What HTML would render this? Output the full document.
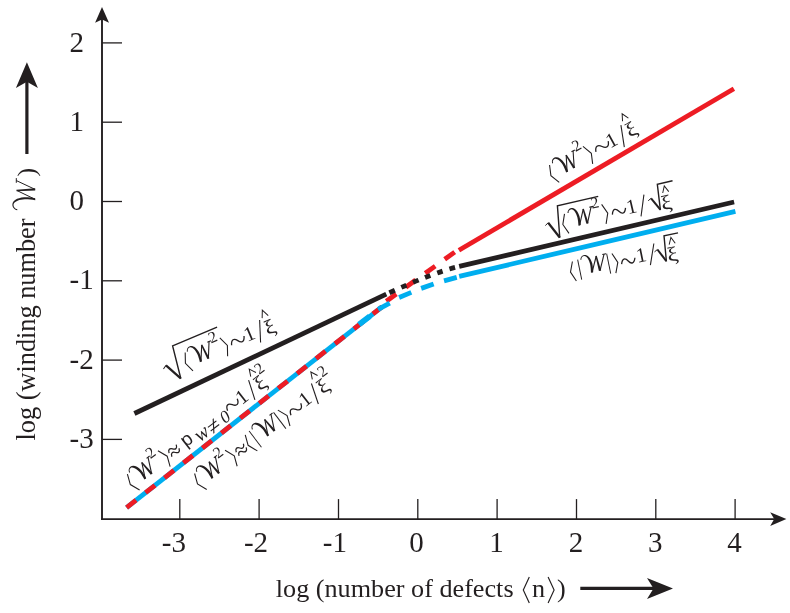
<!DOCTYPE html>
<html><head><meta charset="utf-8"><title>chart</title>
<style>
html,body{margin:0;padding:0;background:#fff;}
svg{display:block;will-change:transform;}
text{font-family:"Liberation Serif",serif;fill:#231f20;}
.tk{font-size:29px;}
.ax{font-size:26px;}
</style></head><body>
<svg width="790" height="613" viewBox="0 0 790 613">
<rect width="790" height="613" fill="#fff"/>
<line x1="102" y1="18" x2="102" y2="520.05" stroke="#231f20" stroke-width="1.9"/>
<line x1="101.05" y1="519.1" x2="774" y2="519.1" stroke="#231f20" stroke-width="1.9"/>
<path d="M102,7 L109,22.8 L102,19.6 L95.1,22.8 Z" fill="#231f20"/>
<path d="M786.4,519.1 L770.2,525.9 L774.2,519.1 L770.2,512.3 Z" fill="#231f20"/>
<line x1="102" y1="439.4" x2="122" y2="439.4" stroke="#231f20" stroke-width="1.3"/>
<line x1="102" y1="360.1" x2="122" y2="360.1" stroke="#231f20" stroke-width="1.3"/>
<line x1="102" y1="280.8" x2="122" y2="280.8" stroke="#231f20" stroke-width="1.3"/>
<line x1="102" y1="201.5" x2="122" y2="201.5" stroke="#231f20" stroke-width="1.3"/>
<line x1="102" y1="122.2" x2="122" y2="122.2" stroke="#231f20" stroke-width="1.3"/>
<line x1="102" y1="42.9" x2="122" y2="42.9" stroke="#231f20" stroke-width="1.3"/>
<line x1="179.8" y1="499.1" x2="179.8" y2="519" stroke="#231f20" stroke-width="1.3"/>
<line x1="259.1" y1="499.1" x2="259.1" y2="519" stroke="#231f20" stroke-width="1.3"/>
<line x1="338.5" y1="499.1" x2="338.5" y2="519" stroke="#231f20" stroke-width="1.3"/>
<line x1="417.8" y1="499.1" x2="417.8" y2="519" stroke="#231f20" stroke-width="1.3"/>
<line x1="497.1" y1="499.1" x2="497.1" y2="519" stroke="#231f20" stroke-width="1.3"/>
<line x1="576.5" y1="499.1" x2="576.5" y2="519" stroke="#231f20" stroke-width="1.3"/>
<line x1="655.8" y1="499.1" x2="655.8" y2="519" stroke="#231f20" stroke-width="1.3"/>
<line x1="735.1" y1="499.1" x2="735.1" y2="519" stroke="#231f20" stroke-width="1.3"/>
<text x="69.6" y="448.0" class="tk">-3</text>
<text x="69.6" y="368.7" class="tk">-2</text>
<text x="69.6" y="289.4" class="tk">-1</text>
<text x="69.6" y="210.1" class="tk">0</text>
<text x="69.6" y="130.8" class="tk">1</text>
<text x="69.6" y="51.5" class="tk">2</text>
<text x="186.0" y="552" text-anchor="end" class="tk">-3</text>
<text x="268.1" y="552" text-anchor="end" class="tk">-2</text>
<text x="346.9" y="552" text-anchor="end" class="tk">-1</text>
<text x="416.6" y="552" text-anchor="middle" class="tk">0</text>
<text x="496.6" y="552" text-anchor="middle" class="tk">1</text>
<text x="576.0" y="552" text-anchor="middle" class="tk">2</text>
<text x="655.3" y="552" text-anchor="middle" class="tk">3</text>
<text x="734.6" y="552" text-anchor="middle" class="tk">4</text>
<line x1="134.4" y1="413.5" x2="386.3" y2="294.2" stroke="#231f20" stroke-width="4.8" />
<line x1="126.6" y1="507.6" x2="382.0" y2="306.8" stroke="#00aeef" stroke-width="4.8" />
<line x1="126.6" y1="507.6" x2="382.0" y2="306.8" stroke="#ed1c24" stroke-width="4.8" stroke-dasharray="12 12.1"/>
<line x1="458.9" y1="250.2" x2="733.9" y2="88.8" stroke="#ed1c24" stroke-width="4.8" />
<line x1="459.2" y1="266.4" x2="734.1" y2="202.0" stroke="#231f20" stroke-width="4.8" />
<line x1="459.2" y1="276.4" x2="735.4" y2="211.3" stroke="#00aeef" stroke-width="4.8" />
<line x1="386.3" y1="301.2" x2="454.7" y2="252.1" stroke="#ed1c24" stroke-width="4.8" stroke-dasharray="12.3 11.66"/>
<line x1="358.93" y1="324.41" x2="369.77" y2="316.19" stroke="#00aeef" stroke-width="5.7"/>
<line x1="378.07" y1="309.40" x2="389.73" y2="303.20" stroke="#00aeef" stroke-width="4.8"/>
<line x1="399.10" y1="297.43" x2="411.30" y2="292.37" stroke="#00aeef" stroke-width="4.8"/>
<line x1="421.17" y1="288.38" x2="433.63" y2="284.02" stroke="#00aeef" stroke-width="4.8"/>
<line x1="444.04" y1="280.86" x2="456.76" y2="277.34" stroke="#00aeef" stroke-width="4.8"/>
<path d="M386.3,294.2 Q434.5,272 459.2,266.4" fill="none" stroke="#231f20" stroke-width="4.8" stroke-dasharray="5.8 7.1" stroke-dashoffset="-3.2"/>
<text x="275.8" y="596.6" class="ax" style="font-size:26.2px">log (number of defects</text>
<text transform="translate(34.6,440.5) rotate(-90)" class="ax" style="font-size:26.3px">log (winding number</text>
<line x1="580.3" y1="588.4" x2="655" y2="588.4" stroke="#231f20" stroke-width="3.2"/>
<path d="M673,588.4 L647,599 L653.5,588.4 L647,578 Z" fill="#231f20"/>
<line x1="26.9" y1="154" x2="26.9" y2="80" stroke="#231f20" stroke-width="3.2"/>
<path d="M26.9,62.2 L37.9,87.9 L26.9,81.8 L15.9,87.9 Z" fill="#231f20"/>
<g transform="translate(34.8,210.4) rotate(-90)">
<g transform="translate(0,0) scale(1.0)"><path d="M0.1,-17.6 C0.9,-20.6 3.2,-22.7 6.1,-22.4 C9.6,-22 12.45,-18.5 13.15,-10.5 C13.25,-7 12.75,-3 12.15,0.4 L10.05,0.4 C10.65,-3 11.15,-7 11.05,-10 C10.85,-15 9.15,-20.40 5.9,-21.30 C3.6,-21.50 1.6,-20 1.10,-17.4 Z" fill="#231f20"/><line x1="11.1" y1="0.3" x2="19.9" y2="-17.9" stroke="#231f20" stroke-width="1.00"/><path d="M19.27,-18.3 L20.53,-18.3 L22.05,0.4 L19.95,0.4 Z" fill="#231f20"/><line x1="21" y1="0.3" x2="29.8" y2="-18.4" stroke="#231f20" stroke-width="1.00"/><line x1="27.6" y1="-18.5" x2="32.3" y2="-18.5" stroke="#231f20" stroke-width="1.00"/></g>
<text x="33.95" y="0.3" font-size="26" >)</text>
</g>
<g transform="translate(0,0) rotate(0)">
<path d="M529.3,577 L523.3,590.0 L529.3,603" fill="none" stroke="#231f20" stroke-width="1.15"/>
<text x="532" y="596.6" font-size="26.2" >n</text>
<path d="M548.1,577 L554.1,590.0 L548.1,603" fill="none" stroke="#231f20" stroke-width="1.15"/>
<text x="557" y="596.6" font-size="26.2" >)</text>
</g>
<g transform="translate(202.1,360.9) rotate(-23)">
<path d="M-38.7,-7.7 L-35.0,-10.0" fill="none" stroke="#231f20" stroke-width="0.9" stroke-linejoin="miter"/>
<path d="M-35.0,-10.0 L-26.5,7.7" fill="none" stroke="#231f20" stroke-width="2.2" stroke-linejoin="miter"/>
<path d="M-26.5,8.1 L-21.3,-25.3 L27,-25.3" fill="none" stroke="#231f20" stroke-width="1.4" stroke-linejoin="miter"/>
<path d="M-12.3,-14.3 L-16.3,-4.300000000000001 L-12.3,5.7" fill="none" stroke="#231f20" stroke-width="1.08"/>
<g transform="translate(-10.5,0) scale(0.82)"><path d="M0.1,-17.6 C0.9,-20.6 3.2,-22.7 6.1,-22.4 C9.6,-22 12.80,-18.5 13.50,-10.5 C13.60,-7 13.10,-3 12.50,0.4 L9.70,0.4 C10.30,-3 10.80,-7 10.70,-10 C10.50,-15 8.80,-20.06 5.9,-20.96 C3.6,-21.16 1.6,-20 1.44,-17.4 Z" fill="#231f20"/><line x1="11.1" y1="0.3" x2="19.9" y2="-17.9" stroke="#231f20" stroke-width="1.34"/><path d="M19.06,-18.3 L20.74,-18.3 L22.40,0.4 L19.60,0.4 Z" fill="#231f20"/><line x1="21" y1="0.3" x2="29.8" y2="-18.4" stroke="#231f20" stroke-width="1.34"/><line x1="27.6" y1="-18.5" x2="32.3" y2="-18.5" stroke="#231f20" stroke-width="1.34"/></g>
<text x="14.9" y="-12.6" font-size="16" >2</text>
<path d="M25.3,-14.3 L29.3,-4.300000000000001 L25.3,5.7" fill="none" stroke="#231f20" stroke-width="1.08"/>
<path d="M33.3,-2.9 C35.1,-8.6 38.2,-8.6 40.8,-4.7 C43.3,-0.8 46.5,-0.8 48.3,-6.5" fill="none" stroke="#231f20" stroke-width="1.3" stroke-linejoin="miter"/>
<text x="48.8" y="0.3" font-size="20.5" >1</text>
<line x1="61" y1="6" x2="68.9" y2="-15.1" stroke="#231f20" stroke-width="1.08"/>
<text x="0" y="0" font-size="20.5" transform="translate(70.10000000000001,2.2) scale(1.18,1)">ξ</text>
<path d="M72.0,-15.9 L75.3,-23.3 L78.6,-15.9" fill="none" stroke="#231f20" stroke-width="1.0" stroke-linejoin="miter"/>
</g>
<g transform="translate(145.25,478.5) rotate(-37.6)">
<path d="M-11.5,-14.3 L-15.5,-4.300000000000001 L-11.5,5.7" fill="none" stroke="#231f20" stroke-width="1.08"/>
<g transform="translate(-9.3,0) scale(0.82)"><path d="M0.1,-17.6 C0.9,-20.6 3.2,-22.7 6.1,-22.4 C9.6,-22 12.80,-18.5 13.50,-10.5 C13.60,-7 13.10,-3 12.50,0.4 L9.70,0.4 C10.30,-3 10.80,-7 10.70,-10 C10.50,-15 8.80,-20.06 5.9,-20.96 C3.6,-21.16 1.6,-20 1.44,-17.4 Z" fill="#231f20"/><line x1="11.1" y1="0.3" x2="19.9" y2="-17.9" stroke="#231f20" stroke-width="1.34"/><path d="M19.06,-18.3 L20.74,-18.3 L22.40,0.4 L19.60,0.4 Z" fill="#231f20"/><line x1="21" y1="0.3" x2="29.8" y2="-18.4" stroke="#231f20" stroke-width="1.34"/><line x1="27.6" y1="-18.5" x2="32.3" y2="-18.5" stroke="#231f20" stroke-width="1.34"/></g>
<text x="15.899999999999999" y="-12" font-size="16" >2</text>
<path d="M27.0,-14.3 L31,-4.300000000000001 L27.0,5.7" fill="none" stroke="#231f20" stroke-width="1.08"/>
<path d="M34.4,-5.6 C35.7,-9.3 38.0,-9.3 39.8,-6.8 C41.6,-4.2 43.9,-4.2 45.2,-8.0" fill="none" stroke="#231f20" stroke-width="1.25" stroke-linejoin="miter"/>
<path d="M34.4,-1.0 C35.7,-4.8 38.0,-4.8 39.8,-2.2 C41.6,0.3 43.9,0.3 45.2,-3.4" fill="none" stroke="#231f20" stroke-width="1.25" stroke-linejoin="miter"/>
<text x="51.2" y="0.4" font-size="19" style="font-family:'Liberation Sans',sans-serif">p</text>
<text x="65.2" y="4.9" font-size="20.5" font-style="italic">w</text>
<text x="79.5" y="7.7" font-size="23" font-style="italic">≠</text>
<text x="96.3" y="5.5" font-size="17.5" font-style="italic">0</text>
<path d="M106.6,-3.5 C108.4,-9.2 111.5,-9.2 114.1,-5.3 C116.6,-1.4 119.8,-1.4 121.6,-7.1" fill="none" stroke="#231f20" stroke-width="1.3" stroke-linejoin="miter"/>
<text x="121.1" y="0.9" font-size="20.5" >1</text>
<line x1="134.9" y1="4.6" x2="141.9" y2="-14.9" stroke="#231f20" stroke-width="1.08"/>
<text x="0" y="0" font-size="20.5" transform="translate(143.8,1.15) scale(1.18,1)">ξ</text>
<path d="M145.8,-16.4 L149.1,-23.2 L152.4,-16.4" fill="none" stroke="#231f20" stroke-width="1.0" stroke-linejoin="miter"/>
<text x="153.5" y="-12.35" font-size="16" >2</text>
</g>
<g transform="translate(213.5,477.1) rotate(-37.3)">
<path d="M-12.850000000000001,-14.3 L-16.85,-4.300000000000001 L-12.850000000000001,5.7" fill="none" stroke="#231f20" stroke-width="1.08"/>
<g transform="translate(-10.6,0) scale(0.82)"><path d="M0.1,-17.6 C0.9,-20.6 3.2,-22.7 6.1,-22.4 C9.6,-22 12.80,-18.5 13.50,-10.5 C13.60,-7 13.10,-3 12.50,0.4 L9.70,0.4 C10.30,-3 10.80,-7 10.70,-10 C10.50,-15 8.80,-20.06 5.9,-20.96 C3.6,-21.16 1.6,-20 1.44,-17.4 Z" fill="#231f20"/><line x1="11.1" y1="0.3" x2="19.9" y2="-17.9" stroke="#231f20" stroke-width="1.34"/><path d="M19.06,-18.3 L20.74,-18.3 L22.40,0.4 L19.60,0.4 Z" fill="#231f20"/><line x1="21" y1="0.3" x2="29.8" y2="-18.4" stroke="#231f20" stroke-width="1.34"/><line x1="27.6" y1="-18.5" x2="32.3" y2="-18.5" stroke="#231f20" stroke-width="1.34"/></g>
<text x="14.5" y="-11.7" font-size="16" >2</text>
<path d="M25.4,-14.3 L29.4,-4.300000000000001 L25.4,5.7" fill="none" stroke="#231f20" stroke-width="1.08"/>
<path d="M33.2,-6.0 C34.5,-9.8 36.8,-9.8 38.6,-7.2 C40.4,-4.7 42.7,-4.7 44.0,-8.4" fill="none" stroke="#231f20" stroke-width="1.25" stroke-linejoin="miter"/>
<path d="M33.2,-1.4 C34.5,-5.2 36.8,-5.2 38.6,-2.6 C40.4,-0.1 42.7,-0.1 44.0,-3.8" fill="none" stroke="#231f20" stroke-width="1.25" stroke-linejoin="miter"/>
<path d="M50.8,-14.3 L46.8,-4.300000000000001 L50.8,5.7" fill="none" stroke="#231f20" stroke-width="1.08"/>
<line x1="56.25" y1="-15.100000000000001" x2="56.25" y2="5.3" stroke="#231f20" stroke-width="0.95"/>
<g transform="translate(59.3,0) scale(0.82)"><path d="M0.1,-17.6 C0.9,-20.6 3.2,-22.7 6.1,-22.4 C9.6,-22 12.80,-18.5 13.50,-10.5 C13.60,-7 13.10,-3 12.50,0.4 L9.70,0.4 C10.30,-3 10.80,-7 10.70,-10 C10.50,-15 8.80,-20.06 5.9,-20.96 C3.6,-21.16 1.6,-20 1.44,-17.4 Z" fill="#231f20"/><line x1="11.1" y1="0.3" x2="19.9" y2="-17.9" stroke="#231f20" stroke-width="1.34"/><path d="M19.06,-18.3 L20.74,-18.3 L22.40,0.4 L19.60,0.4 Z" fill="#231f20"/><line x1="21" y1="0.3" x2="29.8" y2="-18.4" stroke="#231f20" stroke-width="1.34"/><line x1="27.6" y1="-18.5" x2="32.3" y2="-18.5" stroke="#231f20" stroke-width="1.34"/></g>
<line x1="87" y1="-15.100000000000001" x2="87" y2="5.3" stroke="#231f20" stroke-width="0.95"/>
<path d="M91.8,-14.3 L95.8,-4.300000000000001 L91.8,5.7" fill="none" stroke="#231f20" stroke-width="1.08"/>
<path d="M99.1,-2.2 C100.9,-7.9 104.0,-7.9 106.6,-4.0 C109.1,-0.1 112.3,-0.1 114.1,-5.8" fill="none" stroke="#231f20" stroke-width="1.3" stroke-linejoin="miter"/>
<text x="114.8" y="0.1" font-size="20.5" >1</text>
<line x1="127.7" y1="5.4" x2="134.6" y2="-15.1" stroke="#231f20" stroke-width="1.08"/>
<text x="0" y="0" font-size="20.5" transform="translate(136.6,0.8) scale(1.18,1)">ξ</text>
<path d="M137.8,-17.8 L141.1,-24.6 L144.4,-17.8" fill="none" stroke="#231f20" stroke-width="1.0" stroke-linejoin="miter"/>
<text x="146.7" y="-13" font-size="16" >2</text>
</g>
<g transform="translate(566.9,171.7) rotate(-29)">
<path d="M-11.9,-14.3 L-15.9,-4.300000000000001 L-11.9,5.7" fill="none" stroke="#231f20" stroke-width="1.08"/>
<g transform="translate(-9,0) scale(0.82)"><path d="M0.1,-17.6 C0.9,-20.6 3.2,-22.7 6.1,-22.4 C9.6,-22 12.80,-18.5 13.50,-10.5 C13.60,-7 13.10,-3 12.50,0.4 L9.70,0.4 C10.30,-3 10.80,-7 10.70,-10 C10.50,-15 8.80,-20.06 5.9,-20.96 C3.6,-21.16 1.6,-20 1.44,-17.4 Z" fill="#231f20"/><line x1="11.1" y1="0.3" x2="19.9" y2="-17.9" stroke="#231f20" stroke-width="1.34"/><path d="M19.06,-18.3 L20.74,-18.3 L22.40,0.4 L19.60,0.4 Z" fill="#231f20"/><line x1="21" y1="0.3" x2="29.8" y2="-18.4" stroke="#231f20" stroke-width="1.34"/><line x1="27.6" y1="-18.5" x2="32.3" y2="-18.5" stroke="#231f20" stroke-width="1.34"/></g>
<text x="17.0" y="-13.2" font-size="16" >2</text>
<path d="M26.3,-14.3 L30.3,-4.300000000000001 L26.3,5.7" fill="none" stroke="#231f20" stroke-width="1.08"/>
<path d="M35.0,-3.2 C36.9,-8.9 40.3,-8.9 43.0,-5.0 C45.7,-1.1 49.1,-1.1 51.0,-6.8" fill="none" stroke="#231f20" stroke-width="1.3" stroke-linejoin="miter"/>
<text x="49.2" y="0.8" font-size="20.5" >1</text>
<line x1="62.1" y1="6.4" x2="69.8" y2="-14.5" stroke="#231f20" stroke-width="1.08"/>
<text x="0" y="0" font-size="20.5" transform="translate(71.4,1.05) scale(1.18,1)">ξ</text>
<path d="M73.1,-17.1 L76.4,-23.9 L79.8,-17.1" fill="none" stroke="#231f20" stroke-width="1.0" stroke-linejoin="miter"/>
</g>
<g transform="translate(579.2,224.2) rotate(-13)">
<g transform="translate(0,0.9)">
<path d="M-33.3,-7.2 L-29.9,-9.3" fill="none" stroke="#231f20" stroke-width="0.9" stroke-linejoin="miter"/>
</g>
<g transform="translate(0,0.9)">
<path d="M-29.9,-9.3 L-22.0,7.7" fill="none" stroke="#231f20" stroke-width="2.2" stroke-linejoin="miter"/>
</g>
<g transform="translate(0,0.9)">
<path d="M-22.0,8.1 L-17.1,-23.7 L24.8,-23.7" fill="none" stroke="#231f20" stroke-width="1.4" stroke-linejoin="miter"/>
</g>
<g transform="translate(0,0.9)">
<path d="M-12.0,-14.3 L-16,-4.300000000000001 L-12.0,5.7" fill="none" stroke="#231f20" stroke-width="1.08"/>
</g>
<g transform="translate(0,0.9)">
<g transform="translate(-9,0) scale(0.82)"><path d="M0.1,-17.6 C0.9,-20.6 3.2,-22.7 6.1,-22.4 C9.6,-22 12.80,-18.5 13.50,-10.5 C13.60,-7 13.10,-3 12.50,0.4 L9.70,0.4 C10.30,-3 10.80,-7 10.70,-10 C10.50,-15 8.80,-20.06 5.9,-20.96 C3.6,-21.16 1.6,-20 1.44,-17.4 Z" fill="#231f20"/><line x1="11.1" y1="0.3" x2="19.9" y2="-17.9" stroke="#231f20" stroke-width="1.34"/><path d="M19.06,-18.3 L20.74,-18.3 L22.40,0.4 L19.60,0.4 Z" fill="#231f20"/><line x1="21" y1="0.3" x2="29.8" y2="-18.4" stroke="#231f20" stroke-width="1.34"/><line x1="27.6" y1="-18.5" x2="32.3" y2="-18.5" stroke="#231f20" stroke-width="1.34"/></g>
</g>
<g transform="translate(0,0.9)">
<text x="16.0" y="-13" font-size="16" >2</text>
</g>
<path d="M26.3,-14.3 L30.3,-4.300000000000001 L26.3,5.7" fill="none" stroke="#231f20" stroke-width="1.08"/>
<path d="M34.5,-1.9 C36.2,-7.6 39.2,-7.6 41.6,-3.7 C44.0,0.2 47.0,0.2 48.8,-5.5" fill="none" stroke="#231f20" stroke-width="1.3" stroke-linejoin="miter"/>
<text x="49.7" y="1.2" font-size="20.5" >1</text>
<line x1="62" y1="6.3" x2="69.7" y2="-14.2" stroke="#231f20" stroke-width="1.08"/>
<path d="M72.5,-7.3 L75.9,-9.1" fill="none" stroke="#231f20" stroke-width="0.9" stroke-linejoin="miter"/>
<path d="M75.9,-9.1 L82.3,4" fill="none" stroke="#231f20" stroke-width="2.0" stroke-linejoin="miter"/>
<path d="M82.3,4.5 L85.1,-21.3 L100.7,-21.3" fill="none" stroke="#231f20" stroke-width="1.4" stroke-linejoin="miter"/>
<text x="0" y="0" font-size="20.5" transform="translate(84.30000000000001,5.3) scale(1.18,1)">ξ</text>
<path d="M88.4,-11.6 L91.5,-18.2 L94.6,-11.6" fill="none" stroke="#231f20" stroke-width="1.0" stroke-linejoin="miter"/>
</g>
<g transform="translate(592.9,271.9) rotate(-11.5)">
<path d="M-18.0,-14.3 L-22,-4.300000000000001 L-18.0,5.7" fill="none" stroke="#231f20" stroke-width="1.08"/>
<line x1="-12.5" y1="-15.100000000000001" x2="-12.5" y2="5.3" stroke="#231f20" stroke-width="0.95"/>
<g transform="translate(-10,0) scale(0.82)"><path d="M0.1,-17.6 C0.9,-20.6 3.2,-22.7 6.1,-22.4 C9.6,-22 12.80,-18.5 13.50,-10.5 C13.60,-7 13.10,-3 12.50,0.4 L9.70,0.4 C10.30,-3 10.80,-7 10.70,-10 C10.50,-15 8.80,-20.06 5.9,-20.96 C3.6,-21.16 1.6,-20 1.44,-17.4 Z" fill="#231f20"/><line x1="11.1" y1="0.3" x2="19.9" y2="-17.9" stroke="#231f20" stroke-width="1.34"/><path d="M19.06,-18.3 L20.74,-18.3 L22.40,0.4 L19.60,0.4 Z" fill="#231f20"/><line x1="21" y1="0.3" x2="29.8" y2="-18.4" stroke="#231f20" stroke-width="1.34"/><line x1="27.6" y1="-18.5" x2="32.3" y2="-18.5" stroke="#231f20" stroke-width="1.34"/></g>
<line x1="17.1" y1="-15.100000000000001" x2="17.1" y2="5.3" stroke="#231f20" stroke-width="0.95"/>
<path d="M22.3,-14.3 L26.3,-4.300000000000001 L22.3,5.7" fill="none" stroke="#231f20" stroke-width="1.08"/>
<path d="M29.7,-1.9 C31.4,-7.6 34.4,-7.6 36.8,-3.7 C39.2,0.2 42.2,0.2 44.0,-5.5" fill="none" stroke="#231f20" stroke-width="1.3" stroke-linejoin="miter"/>
<text x="45.400000000000006" y="0" font-size="20.5" >1</text>
<line x1="57.7" y1="4.8" x2="65.4" y2="-15.7" stroke="#231f20" stroke-width="1.08"/>
<path d="M64.3,-7.3 L67.7,-9.1" fill="none" stroke="#231f20" stroke-width="0.9" stroke-linejoin="miter"/>
<path d="M67.7,-9.1 L74.1,4" fill="none" stroke="#231f20" stroke-width="2.0" stroke-linejoin="miter"/>
<path d="M74.1,4.5 L76.9,-21.3 L91.2,-21.3" fill="none" stroke="#231f20" stroke-width="1.4" stroke-linejoin="miter"/>
<text x="0" y="0" font-size="20.5" transform="translate(76.10000000000001,5.3) scale(1.18,1)">ξ</text>
<path d="M80.2,-11.6 L83.3,-18.2 L86.4,-11.6" fill="none" stroke="#231f20" stroke-width="1.0" stroke-linejoin="miter"/>
</g>
</svg>
</body></html>
